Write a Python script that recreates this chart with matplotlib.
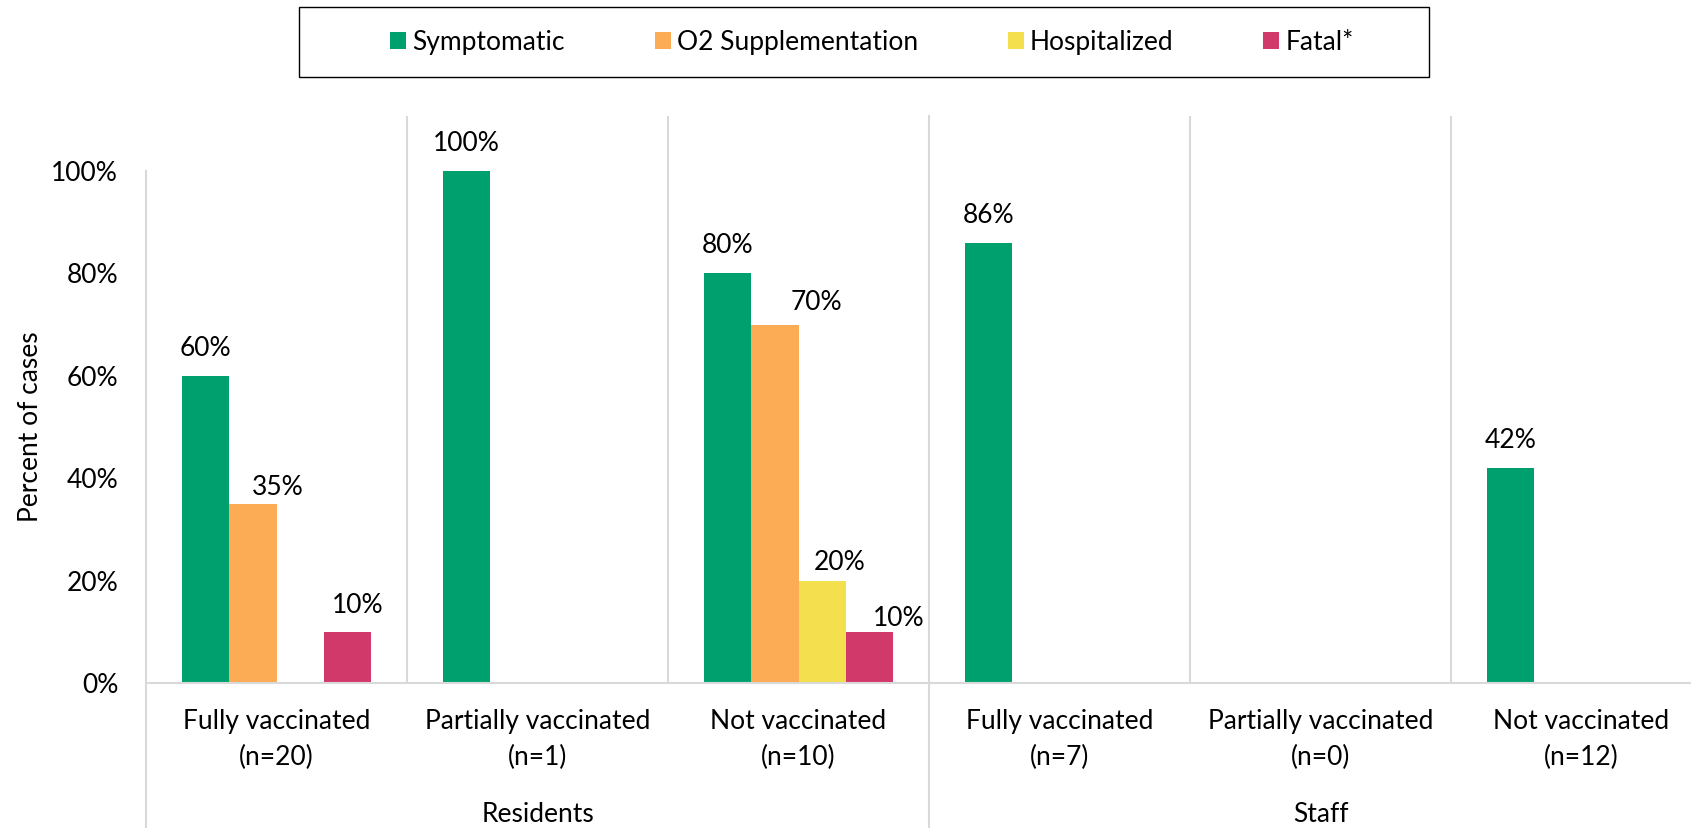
import matplotlib
matplotlib.use("Agg")
import matplotlib.pyplot as plt
from matplotlib.patches import Rectangle
from matplotlib.transforms import blended_transform_factory
import numpy as np

plt.rcParams['font.family'] = ['Lato', 'DejaVu Sans']

# percent of cases per vaccination status
categories = ["Fully vaccinated", "Partially vaccinated", "Not vaccinated",
              "Fully vaccinated", "Partially vaccinated", "Not vaccinated"]
counts = ["(n=20)", "(n=1)", "(n=10)", "(n=7)", "(n=0)", "(n=12)"]
groups = ["Residents", "Staff"]

series_names = ["Symptomatic", "O2 Supplementation", "Hospitalized", "Fatal*"]
symptomatic = [60, 100, 80, 86, 0, 42]
o2_supp = [35, 0, 70, 0, 0, 0]
hospitalized = [0, 0, 20, 0, 0, 0]
fatal = [10, 0, 10, 0, 0, 0]
colors = ["#00A06E", "#FBAC55", "#F4DF4F", "#D2396B"]

# hand-placed value labels (series, category) -> (dx, dy) in pixels
label_nudge = {(1, 0): (25, 9), (3, 0): (10, 19), (1, 2): (42, 15),
               (2, 2): (17, 11), (3, 2): (29, 6)}

W, H = 1691, 828
fig = plt.figure(figsize=(W / 100 + 1e-4, H / 100 + 1e-4), dpi=100)
ax = fig.add_axes([146 / W, (H - 683) / H, 1566 / W, (683 - 116) / H])

x = np.arange(len(categories))
bw = 0.181
fs = 19
grid_c = "#D9D9D9"
px2pt = 0.72

for i, (vals, name) in enumerate(zip([symptomatic, o2_supp, hospitalized, fatal], series_names)):
    pos = x + (i - 1.5) * bw
    ax.bar(pos, np.array(vals) / 100, width=bw, color=colors[i], label=name, linewidth=0)
    for j, (px, v) in enumerate(zip(pos, vals)):
        if v > 0:
            dx, dy = label_nudge.get((i, j), (0, 20))
            ax.annotate(f"{v}%", (px, v / 100), xytext=(dx * px2pt, dy * px2pt),
                        textcoords="offset points", ha="center", va="baseline", fontsize=fs)

ytop = (683 - 116) / (683 - 171)
ax.set_xlim(-0.5, 5.5)
ax.set_ylim(0, ytop)
ax.set_yticks(np.arange(0, 1.01, 0.2))
ax.set_yticklabels([f"{int(round(t * 100))}%" for t in np.arange(0, 1.01, 0.2)], fontsize=fs)
ax.tick_params(axis="y", length=0, pad=20)
ax.set_xticks([])

for s in ["top", "right", "left"]:
    ax.spines[s].set_visible(False)
ax.spines["bottom"].set_color(grid_c)
ax.spines["bottom"].set_linewidth(1.5)

# separators between categories
for xv in [0.5, 1.5, 3.5, 4.5]:
    ax.plot([xv, xv], [0, ytop], color=grid_c, lw=1.5, zorder=0)

# group separators reaching down through the labels
tr = blended_transform_factory(ax.transData, fig.transFigure)
y100_fig = (H - 171) / H
ytop_fig = (H - 116) / H
ax.plot([-0.5, -0.5], [0, y100_fig], color=grid_c, lw=1.5, transform=tr, clip_on=False)
ax.plot([2.5, 2.5], [0, ytop_fig], color=grid_c, lw=1.5, transform=tr, clip_on=False)

for xi, (c, n) in enumerate(zip(categories, counts)):
    ax.text(xi, 1 - 721 / H, c, transform=tr, ha="center", va="center", fontsize=fs)
    ax.text(xi, 1 - 757 / H, n, transform=tr, ha="center", va="center", fontsize=fs)
ax.text(1, 1 - 814 / H, groups[0], transform=tr, ha="center", va="center", fontsize=fs)
ax.text(4, 1 - 814 / H, groups[1], transform=tr, ha="center", va="center", fontsize=fs)

fig.text(30 / W, 1 - 427 / H, "Percent of cases", rotation=90, ha="center", va="center", fontsize=fs)

# legend box
fig.patches.append(Rectangle((299 / W, 1 - 77 / H), 1130 / W, 70 / H, transform=fig.transFigure,
                             facecolor="white", edgecolor="black", lw=1))
fpx = fs * 100 / 72
fig.legend(loc="center left", bbox_to_anchor=(390 / W, 1 - 42 / H), ncol=4, frameon=False,
           fontsize=fs, borderpad=0, borderaxespad=0, handlelength=16 / fpx, handleheight=16 / fpx,
           handletextpad=6 / fpx, columnspacing=90 / fpx)

fig.savefig("out.png", dpi=100)
